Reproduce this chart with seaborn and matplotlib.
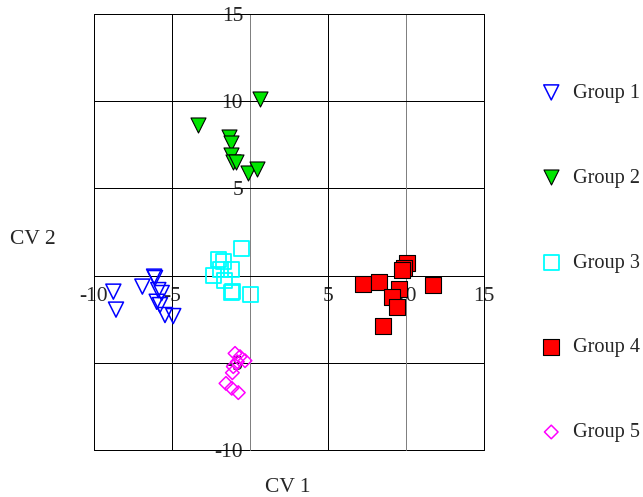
import matplotlib
matplotlib.use("Agg")
import matplotlib.pyplot as plt
import seaborn as sns
from matplotlib.ticker import FuncFormatter

# canonical variate scores
g1_x = [-8.76, -8.59, -6.90, -6.15, -6.09, -5.88, -5.66, -5.98, -5.77, -5.45, -4.92]
g1_y = [-0.92, -1.95, -0.63, -0.06, -0.14, -0.83, -1.00, -1.50, -1.69, -2.26, -2.32]
g2_x = [0.64, -3.31, -1.33, -1.22, -1.22, -1.07, -0.92, -0.10, 0.47]
g2_y = [10.12, 8.62, 7.97, 7.62, 6.91, 6.50, 6.50, 5.88, 6.13]
g3_x = [-0.53, -2.03, -1.71, -1.17, -1.92, -2.35, -1.65, -1.11, -1.17, 0.04]
g3_y = [1.57, 0.93, 0.80, 0.36, 0.36, -0.02, -0.29, -0.92, -0.98, -1.06]
g4_x = [10.04, 9.87, 9.72, 7.26, 8.29, 11.75, 9.57, 9.08, 9.40, 8.50]
g4_y = [0.71, 0.42, 0.32, -0.48, -0.35, -0.56, -0.79, -1.21, -1.78, -2.89]
g5_x = [-0.96, -0.64, -0.32, -0.81, -1.07, -1.13, -1.54, -1.17, -0.75]
g5_y = [-4.46, -4.65, -4.88, -4.94, -5.22, -5.57, -6.18, -6.46, -6.71]

labels = ["Group 1", "Group 2", "Group 3", "Group 4", "Group 5"]
ticks = [-10, -5, 0, 5, 10, 15]

sns.set_style("white")
plt.rcParams["font.family"] = ["Liberation Serif", "DejaVu Serif"]
plt.rcParams["axes.unicode_minus"] = False
fs = 15.5

fig = plt.figure(figsize=(6.43, 4.97), dpi=100)
ax = fig.add_axes([94 / 643, 47 / 497, 390 / 643, 436 / 497])

sns.scatterplot(x=g1_x, y=g1_y, ax=ax, marker="v", s=117, facecolor="none",
                edgecolor="#0000ff", linewidth=1.1, label=labels[0], zorder=3, legend=False)
sns.scatterplot(x=g2_x, y=g2_y, ax=ax, marker="v", s=117, facecolor="#00e600",
                edgecolor="black", linewidth=0.8, label=labels[1], zorder=3, legend=False)
sns.scatterplot(x=g3_x, y=g3_y, ax=ax, marker="s", s=117, facecolor="none",
                edgecolor="#00ffff", linewidth=1.3, label=labels[2], zorder=3, legend=False)
sns.scatterplot(x=g4_x, y=g4_y, ax=ax, marker="s", s=132, facecolor="#ff0000",
                edgecolor="black", linewidth=0.8, label=labels[3], zorder=3, legend=False)
sns.scatterplot(x=g5_x, y=g5_y, ax=ax, marker="D", s=48, facecolor="none",
                edgecolor="#ff00ff", linewidth=1.1, label=labels[4], zorder=3, legend=False)

ax.set_xlim(-10, 15)
ax.set_ylim(-10, 15)
ax.set_xticks(ticks)
ax.set_yticks(ticks)
ax.grid(False)

# grid drawn by hand so the zero / ten verticals can be grey like the original
for t in ticks:
    vcol = "#808080" if t in (0, 10) else "black"
    ax.axvline(t, color=vcol, linewidth=0.72, zorder=1, clip_on=False)
    ax.axhline(t, color="black", linewidth=0.72, zorder=1, clip_on=False)

# axes cross at the origin, labels sit on the zero lines
ax.spines["left"].set_position(("data", 0))
ax.spines["bottom"].set_position(("data", 0))
for s in ["top", "right", "left", "bottom"]:
    ax.spines[s].set_visible(False)

fmt = FuncFormatter(lambda v, p: "" if v == 0 else f"{v:g}")
ax.xaxis.set_major_formatter(fmt)
ax.yaxis.set_major_formatter(fmt)
ax.tick_params(axis="x", length=0, pad=8, labelsize=fs)
ax.tick_params(axis="y", length=0, pad=5, labelsize=fs)
ax.set_xlabel("")
ax.set_ylabel("")

fig.text(33 / 643, 1 - 240 / 497, "CV 2", ha="center", va="center", fontsize=fs)
fig.text(288 / 643, 1 - 488 / 497, "CV 1", ha="center", va="center", fontsize=fs)

handles, labs = ax.get_legend_handles_labels()
fig.legend(handles, labs, loc="center left", bbox_to_anchor=(533 / 643, 0.471),
           frameon=False, handlelength=1.0, handletextpad=0.55, labelspacing=3.24,
           fontsize=14.6, borderaxespad=0)

fig.savefig("out.png", dpi=100)
